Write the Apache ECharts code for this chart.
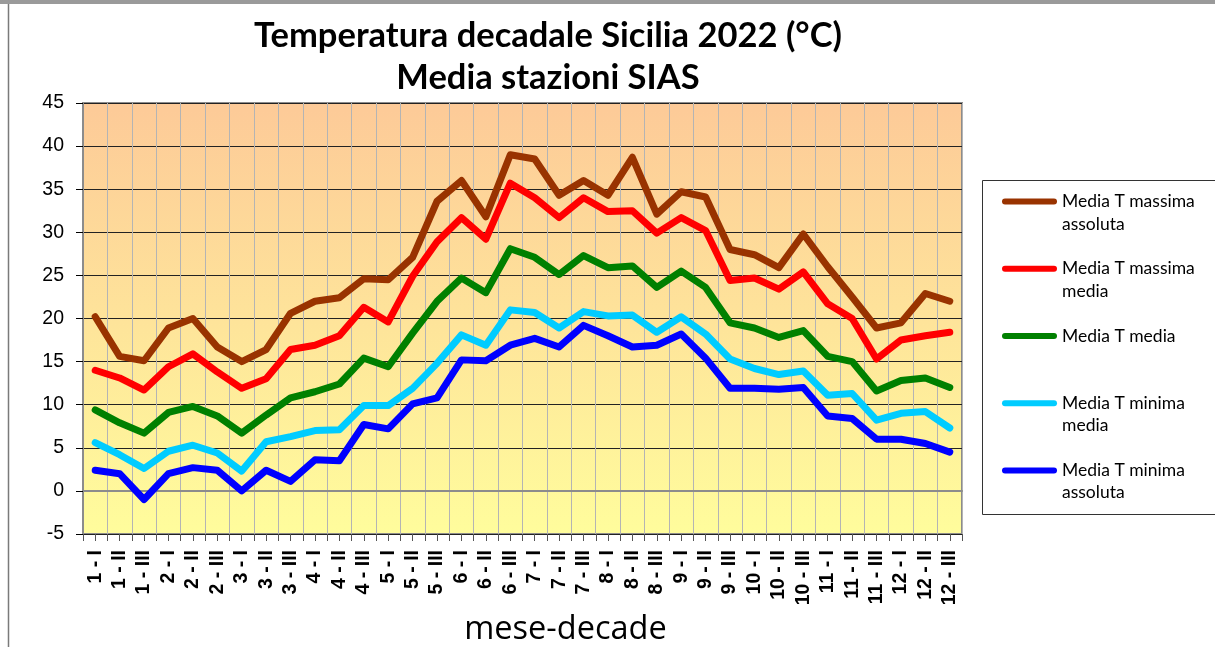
<!DOCTYPE html>
<html>
<head>
<meta charset="utf-8">
<script src="https://cdn.jsdelivr.net/npm/echarts@6/dist/echarts.min.js"></script>
<style>html,body{margin:0;padding:0;background:#fff;}#c{width:1215px;height:647px;}</style>
</head>
<body>
<div id="c"></div>
<script>
const categories = ["1 - I","1 - II","1 - III","2 - I","2 - II","2 - III","3 - I","3 - II","3 - III","4 - I","4 - II","4 - III","5 - I","5 - II","5 - III","6 - I","6 - II","6 - III","7 - I","7 - II","7 - III","8 - I","8 - II","8 - III","9 - I","9 - II","9 - III","10 - I","10 - II","10 - III","11 - I","11 - II","11 - III","12 - I","12 - II","12 - III"];
const tMaxAssoluta = [20.2,15.6,15.1,18.9,20.0,16.7,15.0,16.4,20.6,22.0,22.4,24.6,24.5,27.1,33.6,36.0,31.8,39.0,38.5,34.3,36.0,34.3,38.7,32.1,34.7,34.1,28.0,27.4,25.9,29.8,26.0,22.5,18.9,19.5,22.9,22.0];
const tMaxMedia = [14.0,13.1,11.7,14.4,15.9,13.8,11.9,13.0,16.4,16.9,18.0,21.3,19.6,24.9,28.9,31.7,29.2,35.7,34.0,31.7,34.0,32.4,32.5,29.9,31.7,30.2,24.4,24.7,23.4,25.4,21.7,20.0,15.3,17.5,18.0,18.4];
const tMedia = [9.4,7.9,6.7,9.1,9.8,8.7,6.7,8.8,10.8,11.5,12.4,15.4,14.4,18.3,22.0,24.7,23.0,28.1,27.1,25.1,27.3,25.9,26.1,23.6,25.5,23.6,19.5,18.9,17.8,18.6,15.6,15.0,11.6,12.8,13.1,12.0];
const tMinMedia = [5.6,4.2,2.6,4.6,5.3,4.4,2.3,5.7,6.3,7.0,7.1,9.9,9.9,11.9,14.8,18.1,16.9,21.0,20.7,18.9,20.8,20.3,20.4,18.4,20.2,18.2,15.3,14.2,13.5,13.9,11.1,11.3,8.2,9.0,9.2,7.3];
const tMinAssoluta = [2.4,2.0,-1.0,2.0,2.7,2.4,0.0,2.4,1.1,3.6,3.5,7.7,7.2,10.1,10.8,15.2,15.1,16.9,17.7,16.7,19.2,18.0,16.7,16.9,18.2,15.4,11.9,11.9,11.8,12.0,8.7,8.4,6.0,6.0,5.5,4.5];
const seriesNames = ["Media T massima assoluta","Media T massima media","Media T media","Media T minima media","Media T minima assoluta"];
const legendLabels = [" \nMedia T massima\nassoluta"," \nMedia T massima\nmedia"," \nMedia T media\n "," \nMedia T minima\nmedia"," \nMedia T minima\nassoluta"];
const colors = ["#993300","#FF0000","#008000","#00CCFF","#0000FF"];
const yMin = -5, yMax = 45, yStep = 5;

const dataSets = [tMaxAssoluta, tMaxMedia, tMedia, tMinMedia, tMinAssoluta];
const chart = echarts.init(document.getElementById('c'), null, {renderer: 'canvas'});
const GL = 83, GR = 1215 - 962, GT = 103, GB = 647 - 534;
const option = {
  animation: false,
  backgroundColor: '#ffffff',
  title: {
    text: 'Temperatura decadale Sicilia 2022 (°C)\nMedia stazioni SIAS',
    left: 543, top: 10, textAlign: 'center',
    textStyle: {fontFamily: 'Lato', fontWeight: 'bold', fontSize: 34.5, lineHeight: 42, color: '#000'}
  },
  grid: {
    left: GL, right: GR, top: GT, bottom: GB, show: true,
    containLabel: false, outerBoundsMode: 'none',
    backgroundColor: new echarts.graphic.LinearGradient(0, 0, 0, 1, [
      {offset: 0, color: '#FDCA98'}, {offset: 1, color: '#FFFD9C'}
    ]),
    borderColor: '#8c8c8c', borderWidth: 2
  },
  legend: {
    orient: 'vertical', left: 1002, top: 168, padding: 0, itemGap: 0,
    itemWidth: 55, itemHeight: 6,
    icon: 'path://M3,0H52A3,3,0,0,1,52,6H3A3,3,0,0,1,3,0Z',
    data: seriesNames,
    formatter: function (name) { return legendLabels[seriesNames.indexOf(name)]; },
    textStyle: {fontFamily: 'Lato', fontSize: 17.5, lineHeight: 22.4, color: '#000'},
    selectedMode: false
  },
  xAxis: [{
    type: 'category', data: categories, boundaryGap: true,
    axisLine: {show: true, lineStyle: {color: '#8c8c8c', width: 2}},
    axisTick: {show: false},
    splitLine: {show: true, interval: 0, lineStyle: {color: '#b4b4b4', width: 1}},
    axisLabel: {interval: 0, rotate: 90, margin: 16, fontFamily: 'Liberation Sans', fontWeight: 'bold', fontSize: 19.5, color: '#000'},
    name: 'mese-decade', nameLocation: 'middle', nameGap: 72,
    nameTextStyle: {fontFamily: 'Open Sans', fontSize: 32.5, color: '#000', padding: [0, 0, 0, 86]}
  }, {
    type: 'value', position: 'bottom', min: 0, max: 36, interval: 0.5,
    axisLine: {show: false}, axisLabel: {show: false}, splitLine: {show: false},
    axisTick: {show: true, length: 7, lineStyle: {color: '#555', width: 1}}
  }],
  yAxis: {
    type: 'value', min: yMin, max: yMax, interval: yStep,
    axisLine: {show: true, lineStyle: {color: '#8c8c8c', width: 2}},
    axisTick: {show: true, length: 7, lineStyle: {color: '#000', width: 1}},
    splitLine: {show: true, lineStyle: {color: '#222', width: 1}},
    axisLabel: {margin: 19, fontFamily: 'Liberation Sans', fontSize: 19.5, color: '#000'}
  },
  series: dataSets.map((d, i) => ({
    name: seriesNames[i], type: 'line', data: d, xAxisIndex: 0,
    showSymbol: false, symbol: 'none', z: 10 - i,
    itemStyle: {color: colors[i]},
    lineStyle: {color: colors[i], width: 7, cap: 'round', join: 'round'}
  })),
  graphic: [
    {type: 'rect', shape: {x: 0, y: 0, width: 1215, height: 4}, style: {fill: '#9a9a9a'}, silent: true},
    {type: 'line', shape: {x1: 8.5, y1: 4, x2: 8.5, y2: 647}, style: {stroke: '#7a7a7a', lineWidth: 1.5}, silent: true},
    {type: 'rect', shape: {x: 982.5, y: 180.5, width: 250, height: 334}, style: {fill: 'none', stroke: '#333', lineWidth: 1}, silent: true, z: -1}
  ]
};
chart.setOption(option);
</script>
</body>
</html>
